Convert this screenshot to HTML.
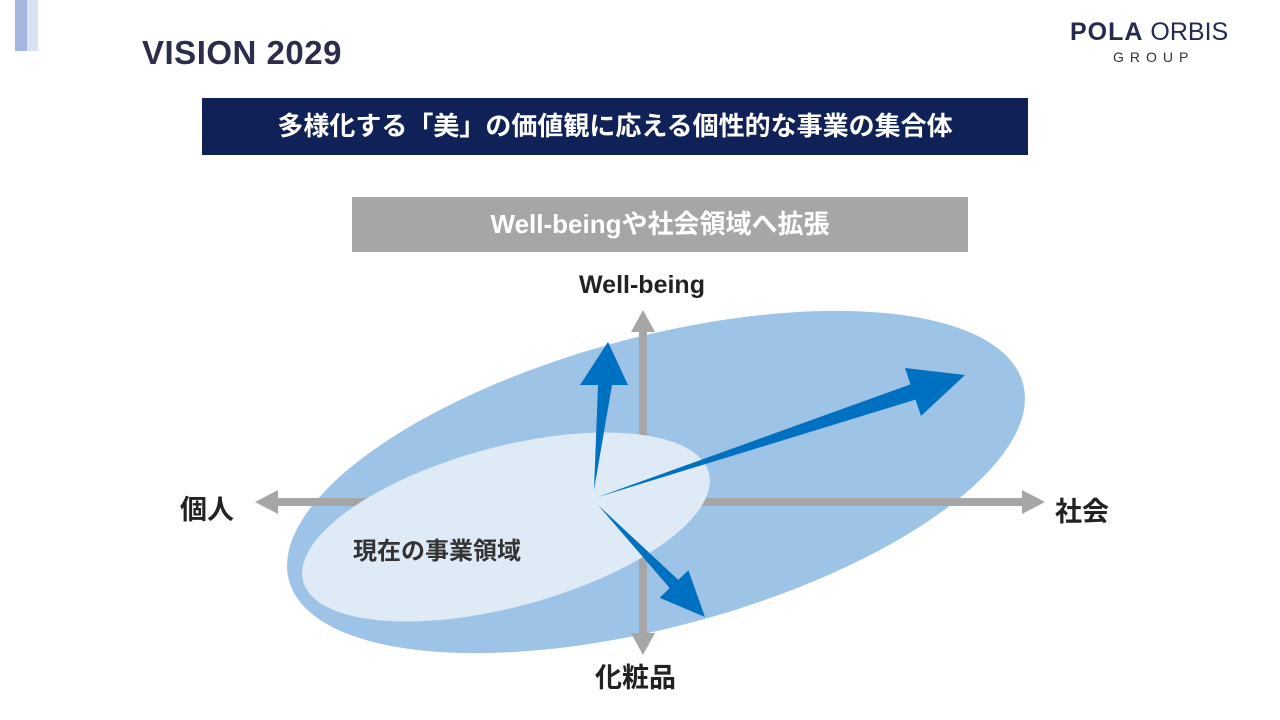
<!DOCTYPE html>
<html><head><meta charset="utf-8"><style>
body{margin:0;width:1280px;height:720px;background:#fff;overflow:hidden;position:relative;font-family:"Liberation Sans","Noto Sans CJK JP",sans-serif}
.a{position:absolute}
</style></head><body>
<div class="a" style="left:15px;top:0;width:12px;height:51px;background:#a4b6de"></div>
<div class="a" style="left:27px;top:0;width:11px;height:51px;background:#d9e1f2"></div>
<div class="a" style="left:142px;top:34px;font-size:33px;font-weight:bold;color:#2b2d4b;letter-spacing:0.5px">VISION 2029</div>
<div class="a" style="left:1070px;top:18px;font-size:25px;color:#252a4e;white-space:nowrap"><b style="letter-spacing:1px">POLA</b><span style="font-weight:normal"> ORBIS</span></div>
<div class="a" style="left:1113px;top:49px;font-size:14px;color:#333;letter-spacing:6px">GROUP</div>
<div class="a" style="left:202px;top:98px;width:826px;height:57px;background:#0f2157;color:#fff;font-size:26px;font-weight:bold;line-height:57px;text-align:center">多様化する「美」の価値観に応える個性的な事業の集合体</div>
<div class="a" style="left:352px;top:197px;width:616px;height:55px;background:#a6a6a6;color:#fff;font-size:26px;font-weight:bold;line-height:55px;text-align:center">Well-beingや社会領域へ拡張</div>
<svg class="a" style="left:0;top:0" width="1280" height="720">
<ellipse cx="656" cy="482" rx="380" ry="145" transform="rotate(-15 656 482)" fill="#9dc3e6"/>
<g stroke="#a6a6a6" stroke-width="8" fill="#a6a6a6">
<line x1="275" y1="502" x2="1025" y2="502"/>
<line x1="643" y1="325" x2="643" y2="645"/>
</g>
<polygon points="255,502 278,490 278,514" fill="#a6a6a6"/>
<polygon points="1045,502 1022,490 1022,514" fill="#a6a6a6"/>
<polygon points="643,310 631,332 655,332" fill="#a6a6a6"/>
<polygon points="643,655 631,633 655,633" fill="#a6a6a6"/>
<ellipse cx="506" cy="527" rx="210" ry="80" transform="rotate(-15 506 527)" fill="#deebf7"/>
<g fill="#0070c0">
<polygon points="594,490 598,385 580,385 608,342 628,385 612,385"/>
<polygon points="598,497 915.5,399.6 921,416 965,375 905,368 910.5,384.4"/>
<polygon points="598,505 669.7,588 659.6,597.8 705,617 688.4,570.2 678.3,579.9"/>
</g>
</svg>
<div class="a" style="left:542px;top:271px;width:200px;text-align:center;font-size:25px;font-weight:bold;color:#222">Well-being</div>
<div class="a" style="left:180px;top:488px;font-size:27px;font-weight:bold;color:#222">個人</div>
<div class="a" style="left:1055px;top:490px;font-size:27px;font-weight:bold;color:#222">社会</div>
<div class="a" style="left:595px;top:656px;font-size:27px;font-weight:bold;color:#222">化粧品</div>
<div class="a" style="left:353px;top:531px;font-size:24px;font-weight:bold;color:#333">現在の事業領域</div>
</body></html>
